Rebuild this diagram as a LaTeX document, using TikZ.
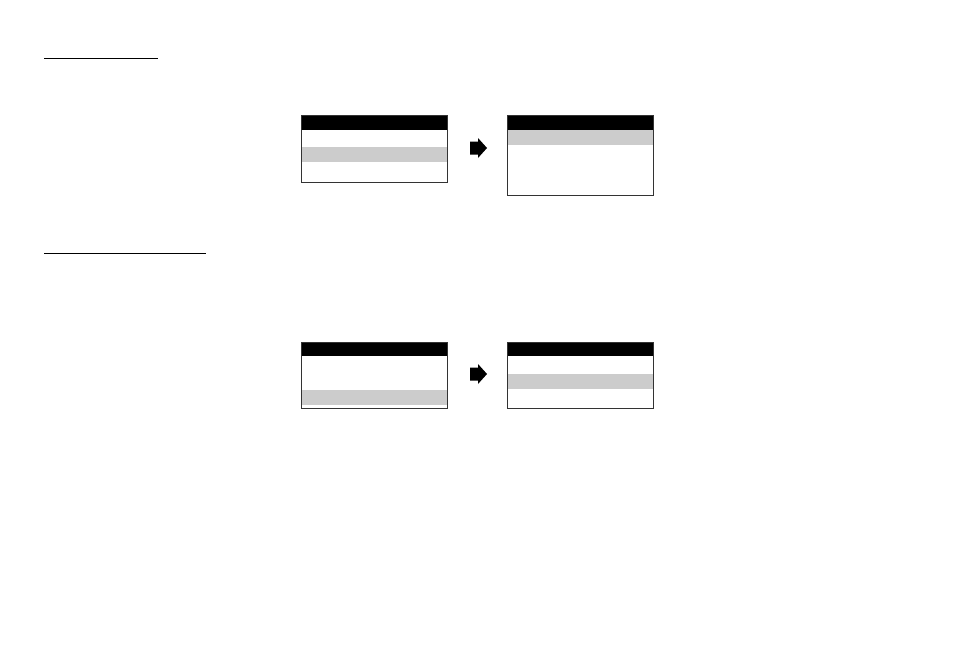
\documentclass[tikz,border=0pt]{standalone}
\usetikzlibrary{shapes.arrows}
\begin{document}
\begin{tikzpicture}[x=0.75pt,y=-0.75pt,
  frame/.style={draw=black!80,line width=0.7pt},
  headbar/.style={fill=black},
  selbar/.style={fill=black!20},
  uline/.style={line width=1pt},
  bigarrow/.style={single arrow,fill=black,draw=none,minimum width=15pt,single arrow head extend=0pt,minimum height=12.5pt,inner sep=0pt,single arrow head indent=0pt}]
\useasboundingbox (0,0) rectangle (955,657);
% titles (underlines)
\draw[uline] (44,58.3) -- (157.7,58.3);
\draw[uline] (44,253.3) -- (205.7,253.3);
% box 1
\fill[selbar] (301,147) rectangle (447.5,162);
\fill[headbar] (301,115) rectangle (447.5,130);
\draw[frame] (301,115) rectangle (447.5,182);
% box 2
\fill[selbar] (507,130) rectangle (653.5,145);
\fill[headbar] (507,115) rectangle (653.5,130);
\draw[frame] (507,115) rectangle (653.5,195);
% arrow 1
\fill (470,141.5) -- (478,141.5) -- (478,138) -- (487,148) -- (478,158) -- (478,154.5) -- (470,154.5) -- cycle;
% box 3
\fill[selbar] (301,390) rectangle (447.5,405);
\fill[headbar] (301,342) rectangle (447.5,356);
\draw[frame] (301,342) rectangle (447.5,408);
% box 4
\fill[selbar] (507,374) rectangle (653.5,389);
\fill[headbar] (507,342) rectangle (653.5,356);
\draw[frame] (507,342) rectangle (653.5,408);
% arrow 2
\fill (470,367.5) -- (478,367.5) -- (478,364) -- (487,374) -- (478,384) -- (478,380.5) -- (470,380.5) -- cycle;
\end{tikzpicture}
\end{document}
